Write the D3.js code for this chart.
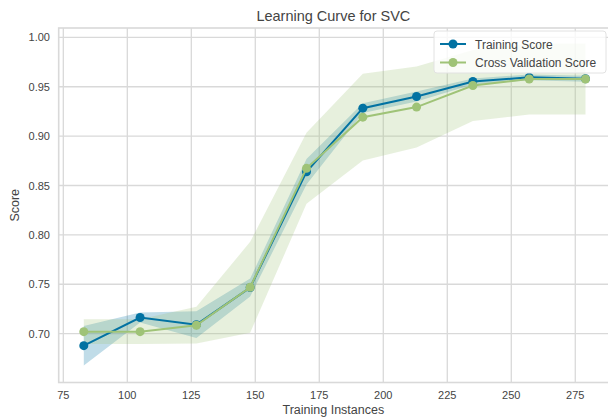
<!DOCTYPE html>
<html>
<head>
<meta charset="utf-8">
<script src="https://cdn.jsdelivr.net/npm/d3@7"></script>
<style>
  html, body { margin: 0; padding: 0; background: #fff; }
  svg { display: block; font-family: "Liberation Sans", Arial, sans-serif; }
</style>
</head>
<body>
<svg id="chart" width="608" height="419"></svg>
<script>
// Training set sizes used for each point of the curve
const trainSizes = [83, 105, 127, 148, 170, 192, 213, 235, 257, 279];

// Mean scores and their standard deviations across folds
const trainMean = [0.6878, 0.7163, 0.7091, 0.7467, 0.8639, 0.9283, 0.9401, 0.9554, 0.9595, 0.9581];
const trainStd  = [0.0200, 0.0050, 0.0135, 0.0090, 0.0130, 0.0050, 0.0050, 0.0030, 0.0030, 0.0030];
const cvMean    = [0.7020, 0.7020, 0.7085, 0.7470, 0.8674, 0.9192, 0.9294, 0.9513, 0.9578, 0.9578];
const cvStd     = [0.0125, 0.0125, 0.0186, 0.0460, 0.0360, 0.0440, 0.0410, 0.0360, 0.0360, 0.0360];

const xTicks = [75, 100, 125, 150, 175, 200, 225, 250, 275];
const yTicks = [0.70, 0.75, 0.80, 0.85, 0.90, 0.95, 1.00];

const series = [
  { name: "Training Score", mean: trainMean, std: trainStd, color: "#0272a2" },
  { name: "Cross Validation Score", mean: cvMean, std: cvStd, color: "#9fc377" }
];

const svg = d3.select("#chart");
const plot = { left: 58.7, right: 610.6, top: 28, bottom: 382.5 };

const x = d3.scaleLinear().domain([73.2, 288.8]).range([plot.left, plot.right]);
const y = d3.scaleLinear().domain([0.6505, 1.0095]).range([plot.bottom, plot.top]);

const gridColor = "#d9d9d9";
const textColor = "#444";

// clip region for the plot area
svg.append("clipPath").attr("id", "plotclip")
  .append("rect")
  .attr("x", plot.left).attr("y", plot.top)
  .attr("width", plot.right - plot.left).attr("height", plot.bottom - plot.top);

// grid lines
const grid = svg.append("g");
grid.selectAll("line.gx").data(xTicks).join("line")
  .attr("x1", d => x(d)).attr("x2", d => x(d))
  .attr("y1", plot.top).attr("y2", plot.bottom)
  .attr("stroke", gridColor).attr("stroke-width", 1.3);
grid.selectAll("line.gy").data(yTicks).join("line")
  .attr("y1", d => y(d)).attr("y2", d => y(d))
  .attr("x1", plot.left).attr("x2", plot.right)
  .attr("stroke", gridColor).attr("stroke-width", 1.3);

// axes frame
svg.append("rect")
  .attr("x", plot.left).attr("y", plot.top)
  .attr("width", plot.right - plot.left).attr("height", plot.bottom - plot.top)
  .attr("fill", "none").attr("stroke", gridColor).attr("stroke-width", 1.6);

const layer = svg.append("g").attr("clip-path", "url(#plotclip)");

// std bands
series.forEach(s => {
  const area = d3.area()
    .x((d, i) => x(trainSizes[i]))
    .y0((d, i) => y(s.mean[i] - s.std[i]))
    .y1((d, i) => y(s.mean[i] + s.std[i]));
  layer.append("path")
    .datum(s.mean)
    .attr("d", area)
    .attr("fill", s.color)
    .attr("fill-opacity", 0.25);
});

// mean lines and markers
series.forEach(s => {
  const line = d3.line()
    .x((d, i) => x(trainSizes[i]))
    .y(d => y(d));
  layer.append("path")
    .datum(s.mean)
    .attr("d", line)
    .attr("fill", "none")
    .attr("stroke", s.color)
    .attr("stroke-width", 2);
  layer.selectAll(null).data(s.mean).join("circle")
    .attr("cx", (d, i) => x(trainSizes[i]))
    .attr("cy", d => y(d))
    .attr("r", 4.5)
    .attr("fill", s.color);
});

// tick labels
svg.append("g").selectAll("text").data(xTicks).join("text")
  .attr("x", d => x(d)).attr("y", 399)
  .attr("text-anchor", "middle")
  .attr("font-size", 11).attr("fill", textColor)
  .text(d => d);
svg.append("g").selectAll("text").data(yTicks).join("text")
  .attr("x", 50).attr("y", d => y(d) + 4)
  .attr("text-anchor", "end")
  .attr("font-size", 11).attr("fill", textColor)
  .text(d => d3.format(".2f")(d));

// axis titles
svg.append("text")
  .attr("x", (plot.left + 608) / 2).attr("y", 414)
  .attr("text-anchor", "middle").attr("font-size", 12.5).attr("fill", textColor)
  .text("Training Instances");
svg.append("text")
  .attr("transform", `translate(19,${(plot.top + plot.bottom) / 2}) rotate(-90)`)
  .attr("text-anchor", "middle").attr("font-size", 12.5).attr("fill", textColor)
  .text("Score");
svg.append("text")
  .attr("x", (plot.left + 608) / 2).attr("y", 21)
  .attr("text-anchor", "middle").attr("font-size", 14.5).attr("fill", textColor)
  .text("Learning Curve for SVC");

// legend
const legend = svg.append("g").attr("transform", "translate(434,31)");
legend.append("rect")
  .attr("width", 172).attr("height", 42).attr("rx", 3)
  .attr("fill", "#fff").attr("fill-opacity", 0.8)
  .attr("stroke", "#e2e2e2");
series.forEach((s, i) => {
  const row = legend.append("g").attr("transform", `translate(0,${13 + i * 18.5})`);
  row.append("line").attr("x1", 6).attr("x2", 32).attr("stroke", s.color).attr("stroke-width", 2);
  row.append("circle").attr("cx", 19).attr("r", 4.5).attr("fill", s.color);
  row.append("text").attr("x", 41).attr("y", 4.5)
    .attr("font-size", 12).attr("fill", textColor).text(s.name);
});
</script>
</body>
</html>
